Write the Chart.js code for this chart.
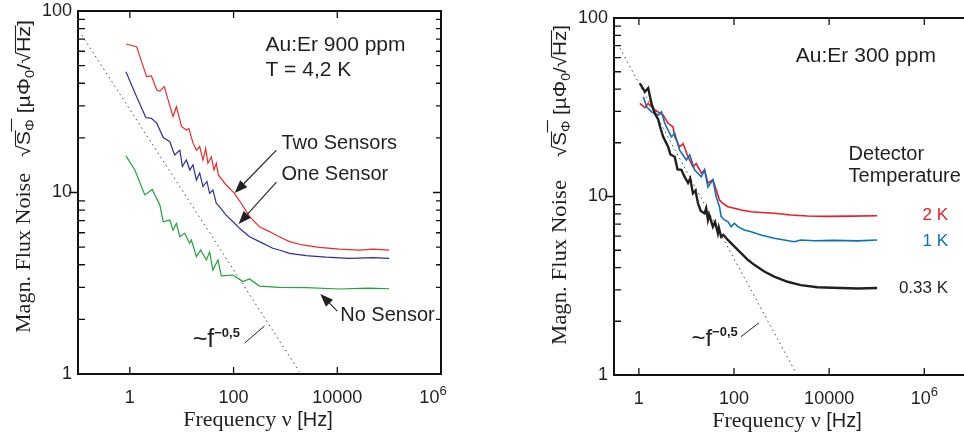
<!DOCTYPE html>
<html><head><meta charset="utf-8">
<script src="https://cdn.jsdelivr.net/npm/chart.js@4.4.1/dist/chart.umd.min.js"></script>
<style>
html,body{margin:0;padding:0;background:#fff;width:964px;height:441px;overflow:hidden}
canvas{position:absolute;left:0;top:0}
</style></head><body>
<canvas id="cl" width="964" height="441"></canvas>
<canvas id="cr" width="964" height="441"></canvas>
<script>
// ---------------- DATA ----------------
// Left panel: Au:Er 900 ppm, T = 4,2 K
const twoSensorsF = [0.84,1.35,2.1,2.6,3.3,3.8,4.6,6.8,7.9,9.9,12.3,13.8,16.5,19.2,22.2,25.7,29,32,37.3,41.8,46.5,50.8,72,104,141,203,316,492,760,1200,2130,4500,11000,26500,50000,100000];
const twoSensorsV = [65.8,63.6,43.5,43.9,36.7,36.2,38.3,26.2,29.7,23.1,22.1,22.5,18.7,17.1,17.9,15.1,17.5,14.5,15.7,13.3,14.5,12.5,11.0,9.9,8.7,7.36,6.48,6.09,5.7,5.36,5.14,4.99,4.88,4.82,4.87,4.82];
const oneSensorF = [0.84,1.35,2.03,2.6,3.3,4.4,5.9,7.3,9.2,10.3,12.3,14.3,16.5,19.2,22.2,25.7,30.7,34.5,40,46.5,50.8,72,113,130,203,316,570,760,1200,2500,6050,17000,50000,100000];
const oneSensorV = [46.3,33.7,25.9,25.6,24.1,20.1,19.05,16.1,17.1,13.9,15.1,13.3,14.2,11.7,12.8,10.8,11.5,9.9,10.3,8.7,8.5,7.5,6.62,6.35,5.7,5.36,4.93,4.82,4.62,4.49,4.40,4.34,4.38,4.34];
const noSensorF = [0.84,1.25,1.94,2.7,3.8,4.4,5.9,6.8,7.9,9.2,11.4,14.3,15.4,19.2,23.2,29.9,34.5,40,49.9,58,97,151,203,316,760,2500,11000,40000,100000];
const noSensorV = [15.9,13.3,9.7,10.4,8.5,6.9,7.05,6.2,6.76,5.7,5.96,5.25,5.47,4.43,4.82,4.25,4.7,3.74,4.25,3.47,3.51,3.23,3.34,3.05,3.0,2.99,2.94,2.97,2.95];
const guideLeftF = [0.118,1860];
const guideLeftV = [73.7,1.03];

// Right panel: Au:Er 300 ppm, detector temperature
const k033F = [1.05,1.34,1.57,1.84,2.16,2.55,2.8,3.24,4.12,4.6,5.66,6.5,7.82,9,10.8,12,13.7,15.5,17.5,20,24,26,28.3,30,36,40,45.8,48,53.7,60,74.1,120,195,267,433,700,1335,2535,5660,17400,40000,102000];
const k033V = [43.0,38.6,40.5,33.2,29.2,27.0,24.5,21.6,19.0,17.2,16.7,14.2,14.1,13.0,11.9,12.6,10.4,10.8,9.16,8.3,8.05,8.6,7.39,7.9,6.78,7.2,6.22,6.7,5.95,6.1,5.71,5.02,4.42,4.14,3.80,3.56,3.33,3.19,3.10,3.07,3.05,3.07];
const k1F = [1.24,1.45,1.84,2.55,2.98,3.5,4.83,5.66,7.2,9.95,11.7,14.8,20.5,24,28.3,36,42.2,49.5,53.7,63,74.1,86.9,102,120,165,228,369,700,1133,1835,2535,4810,12600,38900,102000];
const k1V = [36.2,31.8,29.8,28.6,29.8,25.7,21.6,22.6,18.2,16.0,17.1,14.1,12.9,14.1,11.3,12.4,9.98,8.77,7.71,7.39,7.23,6.78,7.08,6.78,6.49,6.34,6.08,5.84,5.71,5.58,5.71,5.65,5.68,5.64,5.71];
const k2F = [1.05,1.34,1.57,2.16,3.24,4.12,5.25,5.66,7.2,8.49,10.8,13.7,16.1,20.5,24,28.3,36,42.2,49.5,58.3,74.1,102,141,228,315,700,1567,3500,9170,28200,102000];
const k2V = [33.2,31.5,33.2,30.5,28.6,25.7,24.5,21.6,19.0,19.8,16.7,14.7,15.3,13.5,14.1,11.9,12.4,10.9,9.55,9.16,8.77,8.59,8.40,8.22,8.16,8.05,7.87,7.78,7.74,7.76,7.80];
const guideRightF = [0.40,1995];
const guideRightV = [67.7,1.03];

// Axis ticks
const yTickValues = [1,10,100];
const yTickLabels = ['1','10','100'];
const yMinorValues = [2,3,4,5,6,7,8,9,20,30,40,50,60,70,80,90];
const xTickValues = [1,100,10000,1e6];
const xTickLabels = ['1','100','10000','10^6'];

// ---------------- helpers ----------------
const SANS = '"Liberation Sans", Arial, Helvetica, sans-serif';
const SERIF = '"Liberation Serif", "Times New Roman", serif';
const INK = '#231f20';
const pts = (F, V) => F.map((f, i) => ({x: f, y: V[i]}));

function runsWidth(ctx, runs) { let w = 0; for (const r of runs) { ctx.font = r.font; w += ctx.measureText(r.t).width; } return w; }
function drawRuns(ctx, runs, x, y, align, color) {
  const w = runsWidth(ctx, runs);
  let cx = align === 'center' ? x - w / 2 : align === 'right' ? x - w : x;
  ctx.textAlign = 'left'; ctx.textBaseline = 'alphabetic';
  for (const r of runs) {
    ctx.font = r.font; ctx.fillStyle = r.color || color;
    ctx.fillText(r.t, cx, y + (r.dy || 0));
    const rw = ctx.measureText(r.t).width;
    if (r.over !== undefined) {
      ctx.beginPath(); ctx.lineWidth = 1.1; ctx.strokeStyle = color;
      ctx.moveTo(cx - 0.5, y + r.over); ctx.lineTo(cx + rw + 0.5, y + r.over); ctx.stroke();
    }
    cx += rw;
  }
}
function drawRunsFit(ctx, runs, x, y, targetW, color) {
  const w = runsWidth(ctx, runs);
  ctx.save(); ctx.translate(x, y); ctx.scale(targetW / w, 1);
  drawRuns(ctx, runs, 0, 0, 'left', color); ctx.restore();
}
function arrow(ctx, x1, y1, x2, y2) {
  ctx.beginPath(); ctx.strokeStyle = INK; ctx.lineWidth = 1.1;
  const ang = Math.atan2(y2 - y1, x2 - x1), L = 13, W = 5;
  const bx = x2 - L * Math.cos(ang), by = y2 - L * Math.sin(ang);
  ctx.moveTo(x1, y1); ctx.lineTo(bx, by); ctx.stroke();
  ctx.beginPath(); ctx.fillStyle = INK;
  ctx.moveTo(x2, y2);
  ctx.lineTo(bx + W * Math.sin(ang), by - W * Math.cos(ang));
  ctx.lineTo(bx - W * Math.sin(ang), by + W * Math.cos(ang));
  ctx.closePath(); ctx.fill();
}

const decoPlugin = {
  id: 'deco',
  afterDatasetsDraw(chart, args, o) {
    const ctx = chart.ctx, a = chart.chartArea, xs = chart.scales.x, ys = chart.scales.y;
    ctx.save();
    // frame
    ctx.strokeStyle = '#111'; ctx.lineWidth = 2; ctx.lineCap = 'square';
    ctx.beginPath();
    ctx.moveTo(a.left, a.top); ctx.lineTo(a.left, a.bottom); ctx.lineTo(a.right, a.bottom);
    ctx.moveTo(a.left, a.top); ctx.lineTo(a.right, a.top);
    if (o.rightAxis) { ctx.lineTo(a.right, a.bottom); }
    ctx.stroke();
    // ticks
    ctx.lineCap = 'butt'; ctx.lineWidth = 1.3; ctx.beginPath();
    for (const v of yMinorValues) {
      const py = ys.getPixelForValue(v);
      ctx.moveTo(a.left, py); ctx.lineTo(a.left + 7, py);
      if (o.rightAxis) { ctx.moveTo(a.right, py); ctx.lineTo(a.right - 5, py); }
    }
    const p10 = ys.getPixelForValue(10);
    ctx.moveTo(a.left - 9, p10); ctx.lineTo(a.left, p10);
    if (o.rightAxis) { ctx.moveTo(a.right - 8, p10); ctx.lineTo(a.right, p10); }
    for (const v of xTickValues) {
      const px = xs.getPixelForValue(v);
      if (px > a.right - 2) continue;
      ctx.moveTo(px, a.top); ctx.lineTo(px, a.top + 7);
      ctx.moveTo(px, a.bottom); ctx.lineTo(px, a.bottom - 7);
    }
    ctx.stroke();
    // tick labels
    ctx.fillStyle = INK; ctx.font = '18px ' + SANS; ctx.textAlign = 'right'; ctx.textBaseline = 'middle';
    yTickValues.forEach((v, i) => ctx.fillText(yTickLabels[i], a.left - 6, ys.getPixelForValue(v)));
    xTickValues.forEach((v, i) => {
      const px = xs.getPixelForValue(v), lab = xTickLabels[i];
      if (lab.includes('^')) {
        const [b, e] = lab.split('^');
        drawRuns(ctx, [{t: b, font: '18px ' + SANS}, {t: e, font: '13px ' + SANS, dy: -8}], px + (o.lastLabelShift || 0), a.bottom + 29, 'center', INK);
      } else {
        drawRuns(ctx, [{t: lab, font: '18px ' + SANS}], px, a.bottom + 29, 'center', INK);
      }
    });
    // axis titles
    const L = o.layout;
    drawRuns(ctx, [{t: 'Frequency ν', font: '22px ' + SERIF}, {t: ' [Hz]', font: '20px ' + SANS}], L.xTitleX, L.xTitleY, 'center', INK);
    ctx.save(); ctx.translate(L.yTitleBase, L.yTitleStart); ctx.rotate(-Math.PI / 2);
    drawRunsFit(ctx, [{t: 'Magn. Flux Noise', font: '22px ' + SERIF}], 0, 0, L.serifLen, INK);
    drawRunsFit(ctx, [
      {t: '√', font: '19px ' + SANS},
      {t: 'S', font: '19px ' + SANS, over: -14.5},
      {t: 'Φ', font: '13px ' + SANS, dy: 4, over: -18.5},
      {t: ' [µΦ', font: '19px ' + SANS},
      {t: '0', font: '13px ' + SANS, dy: 4},
      {t: '/√', font: '19px ' + SANS},
      {t: 'Hz', font: '19px ' + SANS, over: -14.5},
      {t: ']', font: '19px ' + SANS}
    ], L.sansStart, 0, L.sansLen, INK);
    ctx.restore();
    // annotations (placed in data coordinates)
    for (const n of o.notes) {
      const px = xs.getPixelForValue(n.f), py = ys.getPixelForValue(n.v);
      if (n.sup) {
        drawRuns(ctx, [{t: n.t, font: n.font}, {t: n.sup, font: 'bold 13px ' + SANS, dy: -10}], px, py, n.align || 'left', n.color || INK);
      } else {
        ctx.font = n.font; ctx.fillStyle = n.color || INK; ctx.textAlign = n.align || 'left'; ctx.textBaseline = 'middle';
        ctx.fillText(n.t, px, py);
      }
    }
    for (const r of o.arrows) {
      const x1 = xs.getPixelForValue(r.from[0]), y1 = ys.getPixelForValue(r.from[1]);
      const x2 = xs.getPixelForValue(r.to[0]), y2 = ys.getPixelForValue(r.to[1]);
      if (r.head) arrow(ctx, x1, y1, x2, y2);
      else { ctx.beginPath(); ctx.strokeStyle = INK; ctx.lineWidth = 1; ctx.moveTo(x1, y1); ctx.lineTo(x2, y2); ctx.stroke(); }
    }
    ctx.restore();
  }
};

function lineDs(label, F, V, color, width, extra) {
  return Object.assign({label, data: pts(F, V), borderColor: color, borderWidth: width, pointRadius: 0, tension: 0, fill: false}, extra || {});
}
function baseOptions(padding, xMin, xMax, deco) {
  return {
    responsive: false, animation: false, devicePixelRatio: 1,
    layout: {padding},
    plugins: {legend: {display: false}, tooltip: {enabled: false}, deco},
    scales: {
      x: {type: 'logarithmic', min: xMin, max: xMax, display: false},
      y: {type: 'logarithmic', min: 1, max: 100, display: false}
    }
  };
}
const F20 = '20px ' + SANS;
// ---------------- LEFT CHART ----------------
new Chart(document.getElementById('cl'), {
  type: 'line',
  data: {datasets: [
    lineDs('Two Sensors', twoSensorsF, twoSensorsV, '#ee2a2a', 1.2),
    lineDs('One Sensor', oneSensorF, oneSensorV, '#2e3192', 1.2),
    lineDs('No Sensor', noSensorF, noSensorV, '#1fa33a', 1.2),
    lineDs('~f^-0,5', guideLeftF, guideLeftV, '#444', 1, {borderDash: [1.5, 3.5]})
  ]},
  options: baseOptions({left: 78, right: 523, top: 11, bottom: 67}, 0.1, 1e6, {
    rightAxis: true, lastLabelShift: -8,
    layout: {xTitleX: 258, xTitleY: 426, yTitleBase: 30, yTitleStart: 333, serifLen: 160, sansStart: 176, sansLen: 137},
    notes: [
      {t: 'Au:Er 900 ppm', f: 412, v: 65.0, font: '21px ' + SANS},
      {t: 'T = 4,2 K', f: 412, v: 47.3, font: '21px ' + SANS},
      {t: 'Two Sensors', f: 838, v: 18.7, font: F20},
      {t: 'One Sensor', f: 838, v: 12.5, font: F20},
      {t: 'No Sensor', f: 11400, v: 2.09, font: F20},
      {t: '~f', sup: '−0,5', f: 16.3, v: 1.41, font: '25px ' + SANS}
    ],
    arrows: [
      {from: [671, 17.1], to: [105, 9.93], head: true},
      {from: [671, 11.4], to: [125, 6.7], head: true},
      {from: [10000, 2.22], to: [4710, 2.76], head: true},
      {from: [163, 1.48], to: [395, 1.84]}
    ]
  })
  ,
  plugins: [decoPlugin]
});
// ---------------- RIGHT CHART ----------------
new Chart(document.getElementById('cr'), {
  type: 'line',
  data: {datasets: [
    lineDs('0.33 K', k033F, k033V, '#231f20', 2.4),
    lineDs('1 K', k1F, k1V, '#0a72bc', 1.6),
    lineDs('2 K', k2F, k2V, '#ed1c24', 1.6),
    lineDs('~f^-0,5', guideRightF, guideRightV, '#444', 1, {borderDash: [1.5, 3.5]})
  ]},
  options: baseOptions({left: 614, right: 0, top: 18, bottom: 66}, 0.3256, 6.84e6, {
    rightAxis: false, lastLabelShift: 0,
    layout: {xTitleX: 787, xTitleY: 427, yTitleBase: 566, yTitleStart: 345, serifLen: 165, sansStart: 188, sansLen: 132},
    notes: [
      {t: 'Au:Er 300 ppm', f: 1995, v: 61.1, font: '21px ' + SANS},
      {t: 'Detector', f: 25600, v: 17.1, font: F20},
      {t: 'Temperature', f: 25600, v: 12.9, font: F20},
      {t: '2 K', f: 3.16e6, v: 7.88, font: '17px ' + SANS, align: 'right', color: '#ed1c24'},
      {t: '1 K', f: 3.16e6, v: 5.64, font: '17px ' + SANS, align: 'right', color: '#0a72bc'},
      {t: '0.33 K', f: 3.16e6, v: 3.04, font: '17px ' + SANS, align: 'right'},
      {t: '~f', sup: '−0,5', f: 12.7, v: 1.445, font: '24px ' + SANS}
    ],
    arrows: [
      {from: [141, 1.64], to: [335, 1.96]}
    ]
  }),
  plugins: [decoPlugin]
});
</script>
</body></html>
